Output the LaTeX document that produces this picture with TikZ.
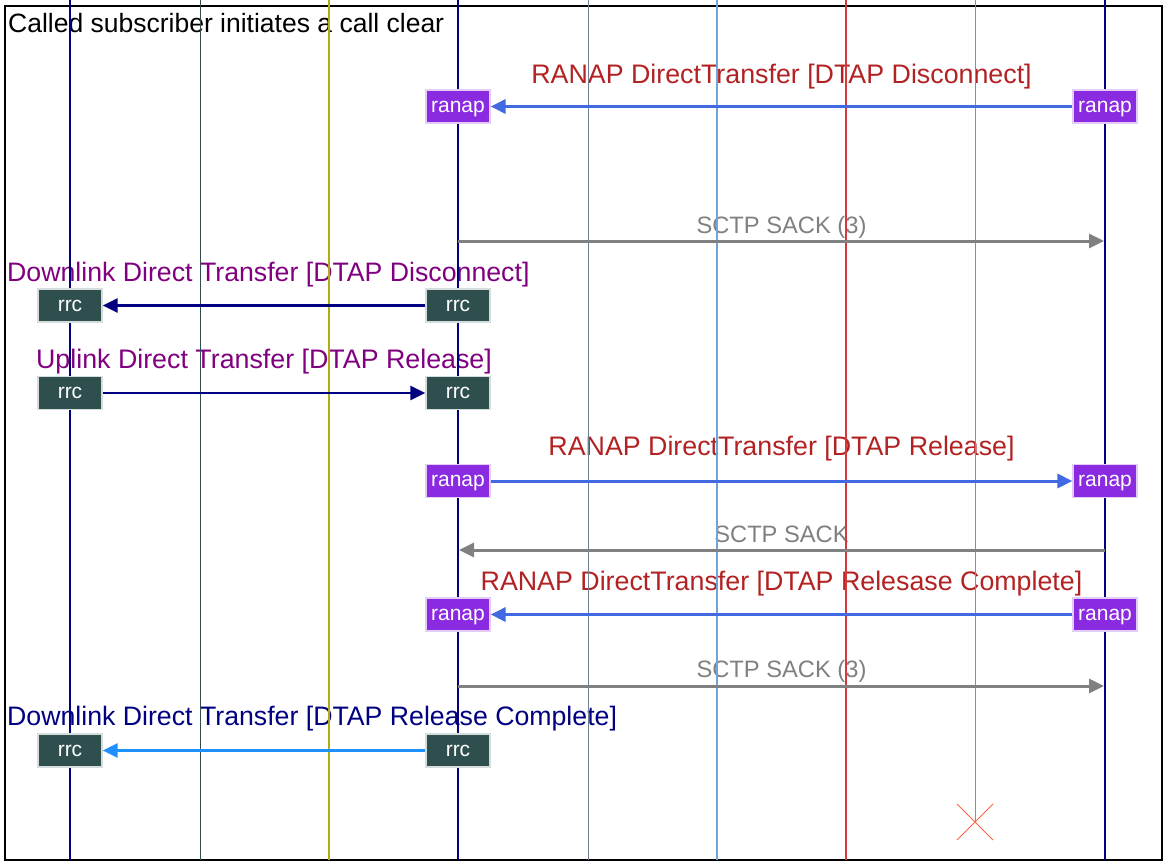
\documentclass[tikz,border=0pt]{standalone}
\usepackage{fontspec}
\setmainfont{Liberation Sans}
\usetikzlibrary{arrows.meta}
\definecolor{navyc}{HTML}{000080}
\definecolor{dsgray}{HTML}{2F4F4F}
\definecolor{olivec}{HTML}{B4AA18}
\definecolor{slategrayc}{HTML}{708090}
\definecolor{skyc}{HTML}{6CA6DC}
\definecolor{redc}{HTML}{D43A3A}
\definecolor{tomatoc}{HTML}{FF6347}
\definecolor{bviolet}{HTML}{8A2BE2}
\definecolor{firebrickc}{HTML}{B22222}
\definecolor{royalc}{HTML}{4169E1}
\definecolor{dodgerc}{HTML}{1E90FF}
\definecolor{grayc}{HTML}{808080}
\definecolor{purplec}{HTML}{800080}
\definecolor{lavb}{HTML}{E2CCF8}
\definecolor{rrcb}{HTML}{D4DCDC}
\begin{document}
\begin{tikzpicture}[x=1pt,y=-1pt,
  msg/.style={anchor=base,inner sep=0pt,font=\fontsize{26.8}{30}\selectfont},
  msgl/.style={anchor=base west,inner sep=0pt,font=\fontsize{26.7}{30}\selectfont},
  sctp/.style={anchor=base,inner sep=0pt,text=grayc,font=\fontsize{23.7}{27}\selectfont},
  boxbase/.style={minimum width=64pt,minimum height=33pt,inner sep=0pt,text=white,line width=1.2pt,
    text height=11pt,text depth=0pt,font=\fontsize{21}{24}\selectfont},
  ranapbox/.style={boxbase,fill=bviolet,draw=lavb},
  rrcbox/.style={boxbase,fill=dsgray,draw=rrcb},
  tip/.style={-{Triangle[length=15pt,width=14pt]}},
  ranaparrow/.style={tip,line width=3pt,draw=royalc,color=royalc},
  rrcarrow/.style={tip,line width=2.7pt,draw=navyc,color=navyc},
  rrcarrowb/.style={tip,line width=2.7pt,draw=dodgerc,color=dodgerc},
  sctparrow/.style={tip,line width=3pt,draw=grayc,color=grayc},
  lifemain/.style={draw=navyc,line width=2pt},
  lifethin/.style={line width=1pt},
  lifecol/.style={line width=1.3pt}
]
\useasboundingbox (0,0) rectangle (1164,862);
% frame
\draw[line width=2pt] (5,6) rectangle (1162,860);
% title
\node[anchor=base west,inner sep=0pt,font=\fontsize{26.5}{30}\selectfont] (title) at (8,32) {Called subscriber initiates a call clear};
% labels
\node[msg,text=firebrickc] (m1) at (781.5,83) {RANAP DirectTransfer [DTAP Disconnect]};
\node[sctp] (m2) at (781.5,233) {SCTP SACK (3)};
\node[msgl,text=purplec] (m3) at (7,281) {Downlink Direct Transfer [DTAP Disconnect]};
\node[msg,text=purplec] (m4) at (264,368) {Uplink Direct Transfer [DTAP Release]};
\node[msg,text=firebrickc] (m5) at (781.5,455) {RANAP DirectTransfer [DTAP Release]};
\node[sctp] (m6) at (781.5,542) {SCTP SACK};
\node[msg,text=firebrickc] (m7) at (781.5,590) {RANAP DirectTransfer [DTAP Relesase Complete]};
\node[sctp] (m8) at (781.5,677) {SCTP SACK (3)};
\node[msgl,text=navyc] (m9) at (7,725) {Downlink Direct Transfer [DTAP Release Complete]};
% lifelines
\foreach \n/\x in {A/70,B/200,C/329,D/458,E/588,F/717,G/846,H/975,I/1105}{
  \coordinate (top\n) at (\x,0);
  \coordinate (bot\n) at (\x,860);
}
\coordinate (endH) at (975,822);
\draw[lifemain] (topA) -- (botA);
\draw[lifethin,draw=dsgray] (topB) -- (botB);
\draw[lifecol,draw=olivec] (topC) -- (botC);
\draw[lifemain] (topD) -- (botD);
\draw[lifethin,draw=slategrayc] (topE) -- (botE);
\draw[lifecol,draw=skyc] (topF) -- (botF);
\draw[lifecol,draw=redc] (topG) -- (botG);
\draw[lifethin,draw=tomatoc] (topH) -- (endH);
\draw[lifemain] (topI) -- (botI);
% destroy mark
\draw[lifethin,draw=tomatoc] (endH) +(-18,-18) -- +(18,18);
\draw[lifethin,draw=tomatoc] (endH) +(-18,18) -- +(18,-18);
% boxes
\node[ranapbox] (b1l) at (458,106.5) {ranap};
\node[ranapbox] (b1r) at (1105,106.5) {ranap};
\node[rrcbox] (b3l) at (70,305.5) {rrc};
\node[rrcbox] (b3r) at (458,305.5) {rrc};
\node[rrcbox] (b4l) at (70,393) {rrc};
\node[rrcbox] (b4r) at (458,393) {rrc};
\node[ranapbox] (b5l) at (458,481) {ranap};
\node[ranapbox] (b5r) at (1105,481) {ranap};
\node[ranapbox] (b7l) at (458,614.5) {ranap};
\node[ranapbox] (b7r) at (1105,614.5) {ranap};
\node[rrcbox] (b9l) at (70,750.5) {rrc};
\node[rrcbox] (b9r) at (458,750.5) {rrc};
% sctp endpoints
\coordinate (s2a) at (458,241);
\coordinate (s2b) at (1104,241);
\coordinate (s6a) at (1105,550);
\coordinate (s6b) at (459,550);
\coordinate (s8a) at (458,686);
\coordinate (s8b) at (1104,686);
% arrows
\draw[ranaparrow] (b1r) -- (b1l);
\draw[sctparrow] (s2a) -- (s2b);
\draw[rrcarrow] (b3r) -- (b3l);
\draw[rrcarrow] (b4l) -- (b4r);
\draw[ranaparrow] (b5l) -- (b5r);
\draw[sctparrow] (s6a) -- (s6b);
\draw[ranaparrow] (b7r) -- (b7l);
\draw[sctparrow] (s8a) -- (s8b);
\draw[rrcarrowb] (b9r) -- (b9l);
\end{tikzpicture}
\end{document}
